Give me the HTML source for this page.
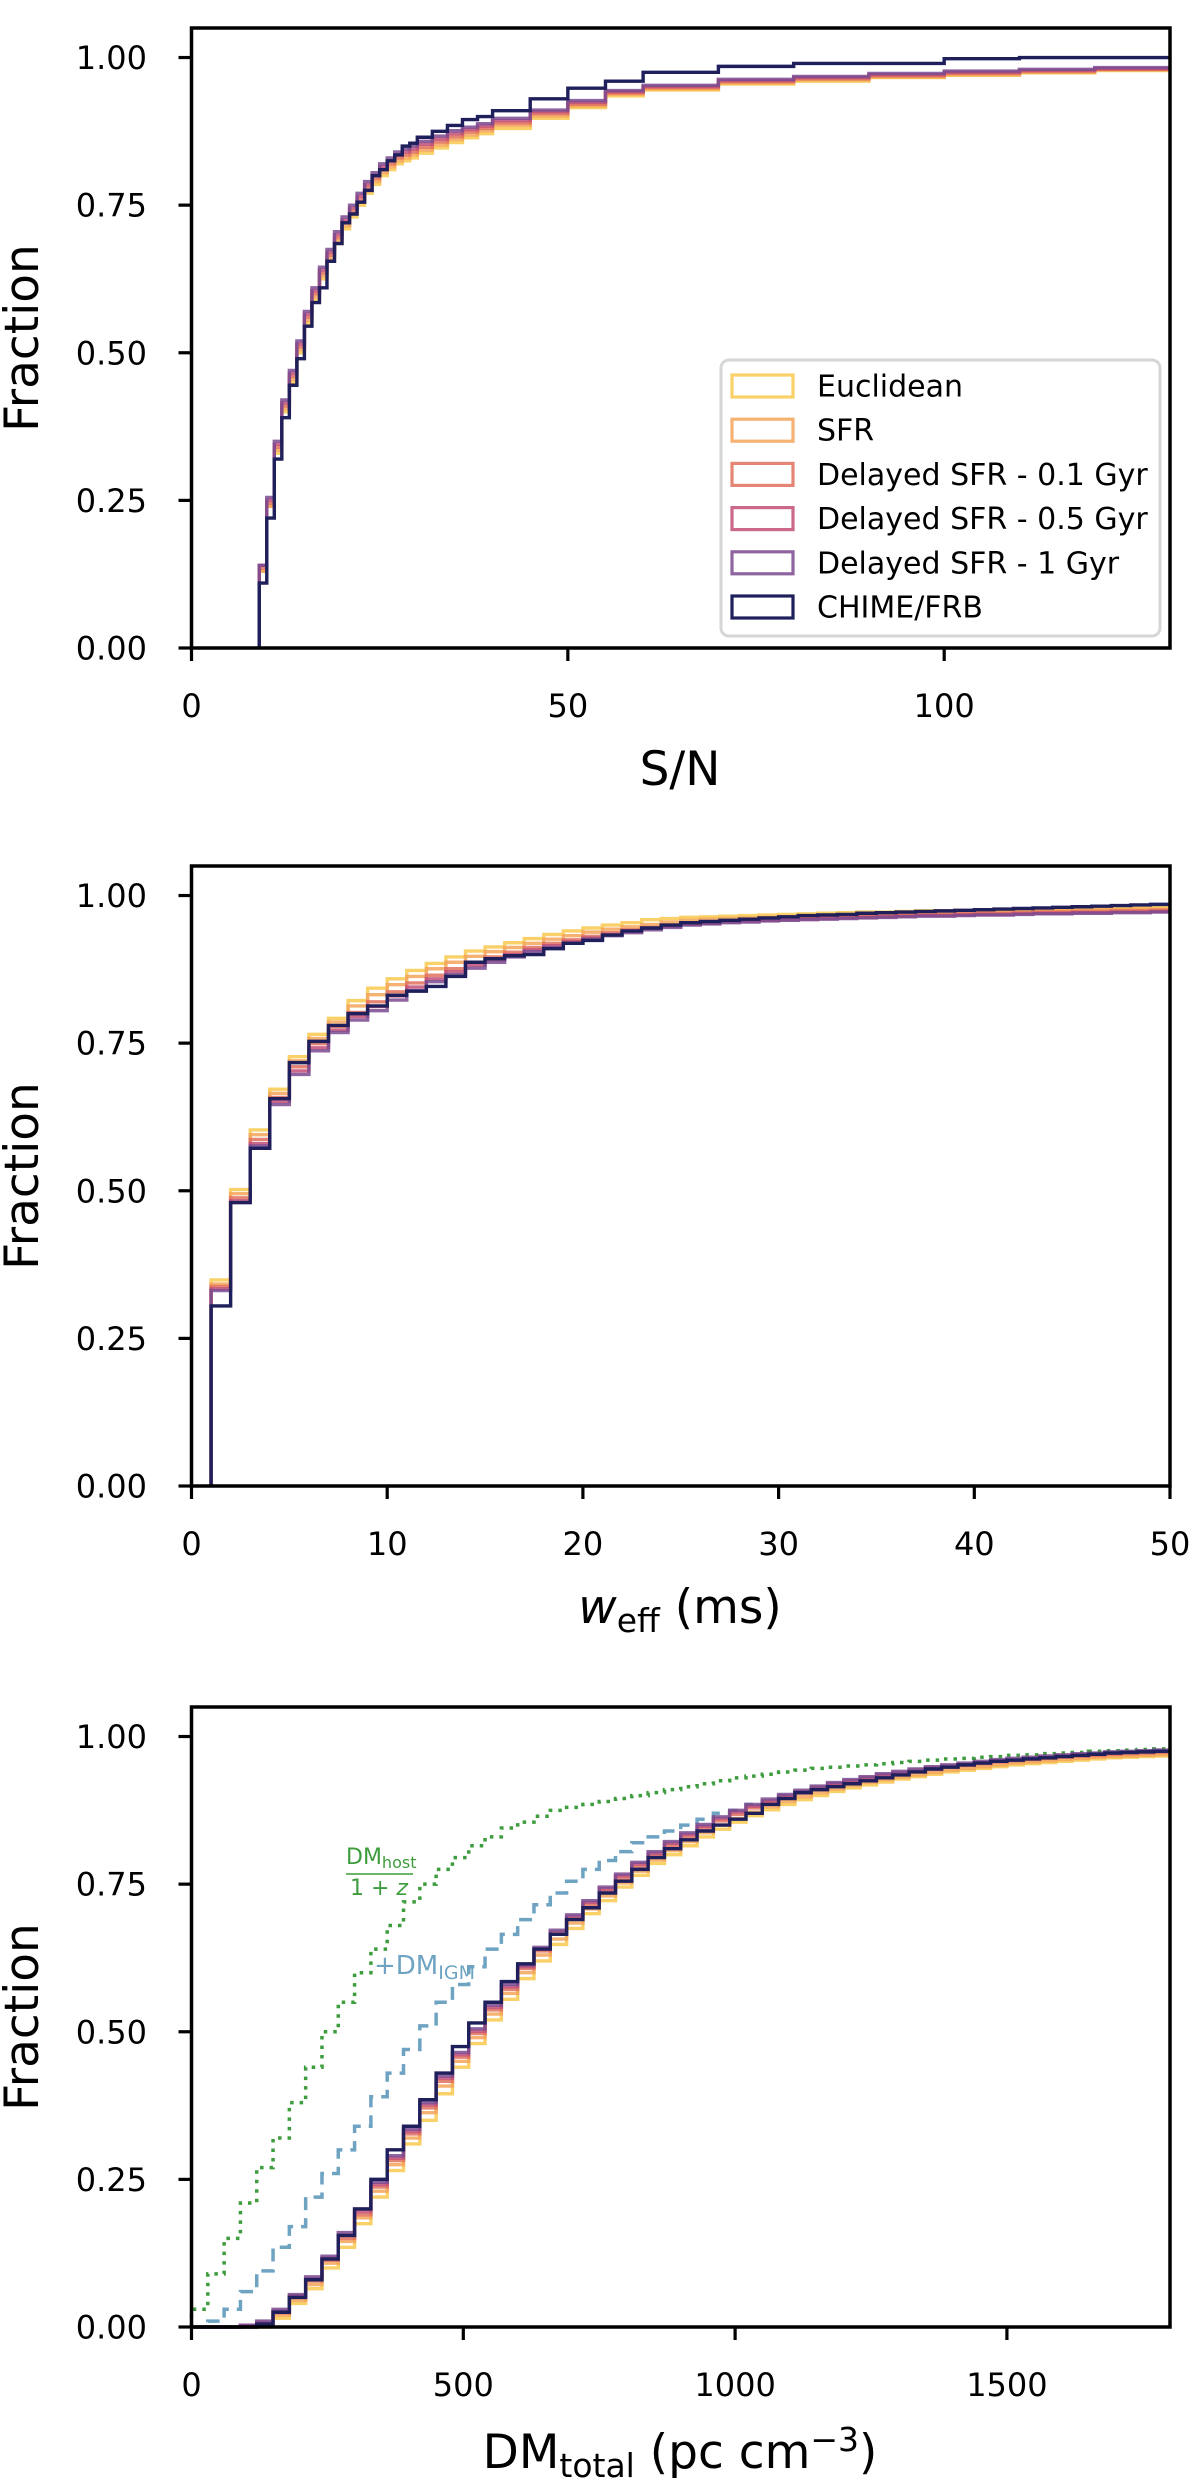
<!DOCTYPE html>
<html><head><meta charset="utf-8"><style>
html,body{margin:0;padding:0;background:#fff;}
svg{display:block;font-family:"DejaVu Sans","Liberation Sans",sans-serif;}
</style></head><body>
<svg id="fig" width="1200" height="2479" viewBox="0 0 1200 2479" xmlns="http://www.w3.org/2000/svg"></svg>
<script>
// ---------- Panel 1: S/N ----------
const snEdges = [9,10,11,12,13,14,15,16,17,18,19,20,21,22,23,24,25,26,27,28,29,30,32,34,36,38,40,45,50,55,60,70,80,90,100,110,120,130];
const snEuclid = [0.13,0.24,0.33,0.40,0.45,0.50,0.55,0.59,0.625,0.655,0.685,0.71,0.73,0.75,0.77,0.785,0.80,0.81,0.82,0.825,0.83,0.838,0.847,0.856,0.864,0.871,0.88,0.897,0.915,0.935,0.945,0.955,0.96,0.966,0.97,0.974,0.978];
const snSFR = [0.13,0.24,0.335,0.405,0.455,0.505,0.555,0.595,0.63,0.66,0.69,0.715,0.735,0.755,0.775,0.79,0.805,0.815,0.825,0.83,0.835,0.843,0.852,0.861,0.869,0.876,0.885,0.901,0.918,0.938,0.947,0.957,0.962,0.967,0.971,0.975,0.979];
const snD01 = [0.135,0.245,0.34,0.41,0.46,0.51,0.56,0.6,0.635,0.665,0.695,0.72,0.74,0.76,0.78,0.795,0.81,0.82,0.83,0.835,0.84,0.848,0.857,0.866,0.874,0.88,0.889,0.905,0.921,0.94,0.949,0.959,0.964,0.969,0.973,0.977,0.98];
const snD05 = [0.14,0.25,0.345,0.415,0.465,0.515,0.565,0.605,0.64,0.67,0.70,0.725,0.745,0.765,0.785,0.80,0.815,0.825,0.835,0.84,0.845,0.853,0.862,0.871,0.878,0.884,0.893,0.908,0.924,0.942,0.951,0.961,0.966,0.971,0.975,0.978,0.981];
const snD1 = [0.14,0.255,0.35,0.42,0.47,0.52,0.57,0.61,0.645,0.675,0.705,0.73,0.75,0.77,0.79,0.805,0.82,0.83,0.84,0.845,0.85,0.858,0.867,0.876,0.882,0.888,0.897,0.911,0.927,0.944,0.953,0.963,0.968,0.973,0.977,0.98,0.983];
const snCHIME = [0.11,0.22,0.32,0.39,0.445,0.49,0.545,0.585,0.61,0.655,0.685,0.72,0.735,0.755,0.775,0.80,0.81,0.825,0.835,0.85,0.855,0.865,0.875,0.885,0.895,0.90,0.91,0.93,0.948,0.96,0.975,0.985,0.99,0.99,0.998,1.0,1.0];
const snTicks = [0,50,100];

// ---------- Panel 2: w_eff ----------
const wEdges = [1,2,3,4,5,6,7,8,9,10,11,12,13,14,15,16,17,18,19,20,21,22,23,24,25,26,27,28,29,30,31,32,33,34,35,36,37,38,39,40,41,42,43,44,45,46,47,48,49,50];
const wEuclid = [0.349,0.502,0.603,0.672,0.727,0.765,0.792,0.822,0.843,0.859,0.873,0.885,0.896,0.906,0.913,0.92,0.927,0.934,0.94,0.945,0.95,0.954,0.959,0.961,0.963,0.964,0.965,0.966,0.967,0.968,0.969,0.97,0.971,0.972,0.972,0.973,0.974,0.974,0.975,0.975,0.976,0.976,0.977,0.977,0.978,0.978,0.979,0.979,0.98];
const wSFR = [0.342,0.495,0.595,0.665,0.72,0.758,0.786,0.813,0.832,0.849,0.863,0.876,0.887,0.897,0.905,0.912,0.919,0.926,0.932,0.938,0.943,0.947,0.951,0.955,0.958,0.96,0.961,0.962,0.963,0.964,0.965,0.966,0.967,0.968,0.969,0.97,0.97,0.971,0.972,0.972,0.973,0.974,0.974,0.975,0.975,0.976,0.976,0.977,0.977];
const wD01 = [0.338,0.488,0.587,0.658,0.71,0.749,0.778,0.802,0.82,0.837,0.852,0.865,0.876,0.887,0.896,0.904,0.912,0.919,0.925,0.931,0.937,0.942,0.946,0.95,0.953,0.955,0.957,0.958,0.96,0.961,0.962,0.963,0.964,0.965,0.966,0.967,0.968,0.968,0.969,0.97,0.97,0.971,0.972,0.972,0.973,0.973,0.974,0.974,0.975];
const wD05 = [0.334,0.483,0.58,0.651,0.703,0.742,0.772,0.795,0.812,0.83,0.845,0.859,0.871,0.882,0.891,0.9,0.908,0.915,0.922,0.928,0.934,0.939,0.944,0.948,0.951,0.953,0.955,0.957,0.958,0.959,0.96,0.961,0.962,0.963,0.964,0.965,0.966,0.966,0.967,0.968,0.968,0.969,0.97,0.97,0.971,0.971,0.972,0.972,0.973];
const wD1 = [0.331,0.48,0.576,0.646,0.697,0.737,0.768,0.789,0.805,0.823,0.839,0.854,0.866,0.877,0.887,0.896,0.905,0.912,0.919,0.926,0.932,0.937,0.942,0.946,0.95,0.952,0.954,0.955,0.957,0.958,0.959,0.96,0.961,0.962,0.963,0.964,0.965,0.965,0.966,0.967,0.967,0.968,0.969,0.969,0.97,0.97,0.971,0.971,0.972];
const wCHIME = [0.305,0.48,0.572,0.656,0.717,0.753,0.78,0.80,0.813,0.831,0.838,0.846,0.863,0.887,0.893,0.898,0.90,0.91,0.919,0.924,0.933,0.94,0.945,0.95,0.954,0.956,0.958,0.96,0.962,0.964,0.966,0.967,0.968,0.97,0.971,0.972,0.973,0.974,0.975,0.976,0.977,0.978,0.979,0.98,0.981,0.982,0.983,0.984,0.985];
const wTicks = [0,10,20,30,40,50];

// ---------- Panel 3: DM ----------
const dmEdges = [0,30,60,90,120,150,180,210,240,270,300,330,360,390,420,450,480,510,540,570,600,630,660,690,720,750,780,810,840,870,900,930,960,990,1020,1050,1080,1110,1140,1170,1200,1230,1260,1290,1320,1350,1380,1410,1440,1470,1500,1530,1560,1590,1620,1650,1680,1710,1740,1770,1800];
const dmEuclid = [0,0,0,0,0,0.015,0.04,0.065,0.1,0.135,0.175,0.22,0.265,0.31,0.35,0.395,0.44,0.48,0.52,0.555,0.59,0.62,0.648,0.675,0.7,0.722,0.745,0.765,0.785,0.8,0.815,0.83,0.843,0.855,0.866,0.876,0.885,0.893,0.9,0.907,0.913,0.918,0.923,0.928,0.932,0.936,0.94,0.943,0.946,0.949,0.952,0.954,0.956,0.958,0.96,0.962,0.964,0.965,0.966,0.967];
const dmSFR = [0,0,0,0,0.003,0.02,0.045,0.072,0.108,0.145,0.185,0.23,0.275,0.32,0.363,0.408,0.45,0.49,0.53,0.565,0.6,0.63,0.657,0.684,0.708,0.73,0.752,0.772,0.791,0.807,0.822,0.837,0.85,0.861,0.872,0.881,0.89,0.898,0.905,0.911,0.917,0.922,0.927,0.931,0.935,0.939,0.943,0.946,0.949,0.952,0.955,0.957,0.959,0.961,0.963,0.965,0.966,0.967,0.968,0.969];
const dmD01 = [0,0,0,0.002,0.006,0.024,0.05,0.078,0.113,0.15,0.19,0.237,0.282,0.327,0.371,0.416,0.457,0.497,0.537,0.572,0.607,0.637,0.665,0.691,0.715,0.738,0.76,0.78,0.798,0.815,0.83,0.845,0.857,0.868,0.879,0.888,0.896,0.904,0.911,0.917,0.922,0.927,0.932,0.936,0.94,0.944,0.948,0.951,0.954,0.957,0.959,0.961,0.963,0.965,0.967,0.968,0.97,0.971,0.972,0.973];
const dmD05 = [0,0,0,0.003,0.008,0.027,0.053,0.082,0.117,0.155,0.195,0.241,0.286,0.331,0.376,0.421,0.461,0.501,0.541,0.576,0.61,0.64,0.669,0.695,0.719,0.742,0.764,0.784,0.802,0.819,0.834,0.848,0.861,0.872,0.882,0.891,0.899,0.907,0.914,0.92,0.925,0.93,0.935,0.939,0.943,0.947,0.95,0.953,0.956,0.959,0.961,0.963,0.965,0.967,0.969,0.97,0.972,0.973,0.974,0.975];
const dmD1 = [0,0,0,0.003,0.01,0.03,0.055,0.085,0.12,0.16,0.2,0.245,0.29,0.335,0.38,0.425,0.465,0.505,0.545,0.58,0.613,0.643,0.672,0.698,0.722,0.745,0.767,0.787,0.805,0.822,0.837,0.851,0.864,0.875,0.885,0.894,0.902,0.909,0.916,0.922,0.927,0.932,0.937,0.941,0.945,0.949,0.952,0.955,0.958,0.961,0.963,0.965,0.967,0.969,0.971,0.972,0.974,0.975,0.976,0.977];
const dmCHIME = [0,0,0,0,0.005,0.025,0.05,0.08,0.115,0.155,0.2,0.25,0.3,0.34,0.385,0.43,0.475,0.515,0.55,0.585,0.615,0.64,0.665,0.69,0.71,0.735,0.755,0.775,0.795,0.81,0.825,0.84,0.85,0.86,0.87,0.885,0.895,0.905,0.91,0.915,0.92,0.925,0.93,0.935,0.94,0.945,0.948,0.952,0.955,0.958,0.96,0.962,0.964,0.966,0.968,0.97,0.972,0.973,0.974,0.975];
const dmHost = [0.03,0.09,0.15,0.21,0.27,0.32,0.38,0.44,0.5,0.55,0.6,0.64,0.68,0.72,0.75,0.775,0.795,0.815,0.83,0.845,0.855,0.865,0.875,0.88,0.885,0.89,0.895,0.9,0.905,0.91,0.915,0.92,0.925,0.93,0.933,0.936,0.94,0.943,0.946,0.948,0.95,0.952,0.954,0.956,0.958,0.96,0.962,0.963,0.965,0.966,0.968,0.969,0.971,0.972,0.973,0.975,0.976,0.977,0.978,0.979];
const dmIGM = [0,0.01,0.03,0.06,0.095,0.135,0.17,0.22,0.26,0.3,0.34,0.39,0.43,0.47,0.51,0.55,0.58,0.61,0.64,0.665,0.69,0.715,0.735,0.755,0.775,0.79,0.805,0.82,0.83,0.84,0.85,0.86,0.87,0.875,0.885,0.89,0.9,0.905,0.91,0.915,0.92,0.925,0.93,0.935,0.94,0.945,0.948,0.951,0.954,0.957,0.96,0.962,0.964,0.966,0.968,0.97,0.972,0.974,0.976,0.977];
const dmTicks = [0,500,1000,1500];

const yTicks = [0,0.25,0.5,0.75,1.0];
const yTickLabels = ["0.00","0.25","0.50","0.75","1.00"];
const seriesNames = ["Euclidean","SFR","Delayed SFR - 0.1 Gyr","Delayed SFR - 0.5 Gyr","Delayed SFR - 1 Gyr","CHIME/FRB"];
const seriesColors = ["#f8c94e","#f4a55a","#e0705d","#c24f78","#7a4a8f","#1f1f5c"];

const NS = "http://www.w3.org/2000/svg";
const svg = document.getElementById("fig");
function mk(tag, attrs, parent){
  const e = document.createElementNS(NS, tag);
  for (const k in attrs) e.setAttribute(k, attrs[k]);
  (parent||svg).appendChild(e);
  return e;
}
const L = 191.5, R = 1170;
function panel(top, xmax, ticks, key){
  const bottom = top + 620;
  const g = mk("g", {});
  
  
  const sx = v => L + (v / xmax) * (R - L);
  const sy = v => bottom - v * (620 / 1.05);
  return {g, sx, sy, top, bottom};
}
function stepPath(P, edges, vals){
  let d = "M" + P.sx(edges[0]).toFixed(2) + "," + P.sy(0).toFixed(2);
  for (let i = 0; i < vals.length; i++){
    d += " L" + P.sx(edges[i]).toFixed(2) + "," + P.sy(vals[i]).toFixed(2);
    d += " L" + P.sx(edges[i+1]).toFixed(2) + "," + P.sy(vals[i]).toFixed(2);
  }
  return d;
}
function drawAxes(P, ticks, key){
  for (let i = 0; i < yTicks.length; i++){
    const y = P.sy(yTicks[i]);
    const t = mk("line", {x1:L-13, x2:L, y1:y, y2:y, stroke:"#000","stroke-width":3.2}, P.g);
    
    
    const tx = mk("text", {x:147, y:y+11.5, "text-anchor":"end", "font-size":32, fill:"#000"}, P.g);
    tx.textContent = yTickLabels[i];
    
    
  }
  for (let i = 0; i < ticks.length; i++){
    const x = P.sx(ticks[i]);
    const t = mk("line", {x1:x, x2:x, y1:P.bottom, y2:P.bottom+13, stroke:"#000","stroke-width":3.2}, P.g);
    
    
    const tx = mk("text", {x:x, y:P.bottom+69, "text-anchor":"middle", "font-size":32, fill:"#000"}, P.g);
    tx.textContent = String(ticks[i]);
    
    
  }
  const fr = mk("rect", {x:L, y:P.top, width:R-L, height:620, fill:"none", stroke:"#000", "stroke-width":3.5}, P.g);
  
  
  const yl = mk("text", {x:0, y:0, transform:"translate(38," + ((P.top+P.bottom)/2) + ") rotate(-90)", "text-anchor":"middle", "font-size":47, fill:"#000"}, P.g);
  yl.textContent = "Fraction";
  
  
}
function drawSeries(P, edges, list, key){
  for (let i = 0; i < list.length; i++){
    const p = mk("path", {d:stepPath(P, edges, list[i]), fill:"none", stroke:seriesColors[i], "stroke-width":3.4, "stroke-opacity": i===5?1:0.85, "stroke-linejoin":"miter"}, P.g);
    
    
  }
}

// Panel 1
const P1 = panel(28, 130, snTicks, "sn");
drawSeries(P1, snEdges, [snEuclid, snSFR, snD01, snD05, snD1, snCHIME], "sn");
drawAxes(P1, snTicks, "sn");
const xl1 = mk("text", {x:680, y:785, "text-anchor":"middle", "font-size":47, fill:"#000"}, P1.g);
xl1.textContent = "S/N";


// legend
const lg = mk("g", {}, P1.g);


mk("rect", {x:721, y:360, width:439, height:276, rx:8, fill:"#fff", "fill-opacity":0.8, stroke:"#d6d6d6", "stroke-width":3}, lg);
for (let i = 0; i < seriesNames.length; i++){
  const cy = 386 + i * 44.2;
  const e = mk("g", {}, lg);
  
  
  mk("rect", {x:732, y:cy-11, width:61, height:22, fill:"none", stroke:seriesColors[i], "stroke-width":3.2, "stroke-opacity": i===5?1:0.85}, e);
  const t = mk("text", {x:817, y:cy+10.5, "font-size":30, fill:"#000"}, e);
  t.textContent = seriesNames[i];
}

// Panel 2
const P2 = panel(866, 50, wTicks, "weff");
drawSeries(P2, wEdges, [wEuclid, wSFR, wD01, wD05, wD1, wCHIME], "weff");
drawAxes(P2, wTicks, "weff");
const xl2 = mk("text", {x:680, y:1623, "text-anchor":"middle", "font-size":47, fill:"#000"}, P2.g);
xl2.innerHTML = '<tspan font-style="italic">w</tspan><tspan font-size="33" dy="9">eff</tspan><tspan dy="-9"> (ms)</tspan>';



// Panel 3
const P3 = panel(1707, 1800, dmTicks, "dm");
const ph = mk("path", {d:stepPath(P3, dmEdges, dmHost), fill:"none", stroke:"#3d9c3d", "stroke-width":3.5, "stroke-dasharray":"3.5 6"}, P3.g);


const pi = mk("path", {d:stepPath(P3, dmEdges, dmIGM), fill:"none", stroke:"#6fa3c2", "stroke-width":3.5, "stroke-dasharray":"13 8"}, P3.g);


drawSeries(P3, dmEdges, [dmEuclid, dmSFR, dmD01, dmD05, dmD1, dmCHIME], "dm");
drawAxes(P3, dmTicks, "dm");
const xl3 = mk("text", {x:680, y:2468, "text-anchor":"middle", "font-size":47, fill:"#000"}, P3.g);
xl3.innerHTML = 'DM<tspan font-size="33" dy="9">total</tspan><tspan dy="-9"> (pc cm</tspan><tspan font-size="33" dy="-17">−3</tspan><tspan dy="17">)</tspan>';


// annotations
const an1 = mk("g", {}, P3.g);


const n1 = mk("text", {x:346, y:1864, "font-size":22, fill:"#3d9c3d"}, an1);
n1.innerHTML = 'DM<tspan font-size="16" dy="4">host</tspan>';
mk("line", {x1:346, x2:413, y1:1874, y2:1874, stroke:"#3d9c3d", "stroke-width":1.5}, an1);
const d1 = mk("text", {x:379, y:1895, "text-anchor":"middle", "font-size":22, fill:"#3d9c3d"}, an1);
d1.innerHTML = '1 + <tspan font-style="italic">z</tspan>';
const an2 = mk("text", {x:374, y:1974, "font-size":26, fill:"#6fa3c2"}, P3.g);
an2.innerHTML = '+DM<tspan font-size="19" dy="5">IGM</tspan>';


</script>
</body></html>
